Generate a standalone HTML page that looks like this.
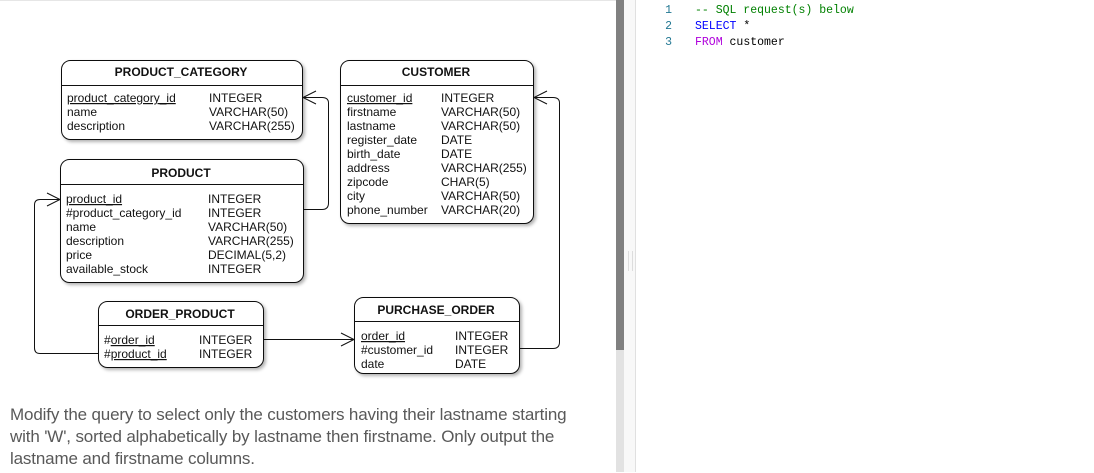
<!DOCTYPE html>
<html><head><meta charset="utf-8"><style>
html,body{margin:0;padding:0;width:1094px;height:472px;overflow:hidden;background:#fff;font-family:"Liberation Sans",sans-serif;}
#left{position:absolute;left:0;top:0;width:616px;height:472px;background:#fff;border-top:1px solid #e6e6e6;}
#sb1{position:absolute;left:616px;top:0;width:8px;height:350px;background:#808080;}
#sb1b{position:absolute;left:616px;top:350px;width:8px;height:122px;background:#e2e2e2;}
#sb2{position:absolute;left:624px;top:0;width:11px;height:472px;background:#f8f8f8;border-right:1px solid #e0e0e0;}
#grip{position:absolute;left:628px;top:251px;width:3px;height:20px;border-left:1px solid #ddd;border-right:1px solid #ddd;}
#code{position:absolute;left:636px;top:0;right:0;height:472px;font-family:"Liberation Mono",monospace;font-size:11.5px;}
.ln{position:absolute;left:26px;width:10px;color:#237893;text-align:right;}
.cd{position:absolute;left:59px;white-space:pre;}
#txt{position:absolute;left:10px;top:403px;font-size:17px;line-height:22px;color:#595959;white-space:nowrap;letter-spacing:-0.15px;}
svg text{font-family:"Liberation Sans",sans-serif;font-size:12px;fill:#111;}
svg text.h{font-weight:bold;}
</style></head><body>
<div id="left">
<svg width="616" height="472" style="position:absolute;left:0;top:0">
<defs><filter id="s" x="-5%" y="-5%" width="115%" height="120%"><feDropShadow dx="2" dy="2" stdDeviation="1.5" flood-color="#000" flood-opacity="0.3"/></filter></defs>
<g fill="#fff" stroke="#111" stroke-width="1">
<rect x="61.5" y="59.5" width="241" height="79" rx="9" filter="url(#s)"/>
<rect x="340.5" y="59.5" width="193" height="163" rx="9" filter="url(#s)"/>
<rect x="60.5" y="158.5" width="243" height="123" rx="9" filter="url(#s)"/>
<rect x="98.5" y="300.5" width="165" height="66" rx="9" filter="url(#s)"/>
<rect x="354.5" y="296.5" width="165" height="76" rx="9" filter="url(#s)"/>
</g>
<g stroke="#111" stroke-width="1" fill="none">
<line x1="61" y1="84.5" x2="302" y2="84.5"/>
<line x1="340" y1="84.5" x2="533" y2="84.5"/>
<line x1="60" y1="183.5" x2="303" y2="183.5"/>
<line x1="98" y1="324.5" x2="263" y2="324.5"/>
<line x1="354" y1="320.5" x2="519" y2="320.5"/>
<path d="M304 208.5 H322 Q328.5 208.5 328.5 202 V102 Q328.5 96.5 322 96.5 H303"/>
<path d="M316 90 L303 96.5 L316 103"/>
<path d="M98 352.5 H40 Q34.5 352.5 34.5 347 V204 Q34.5 198.5 40 198.5 H60"/>
<path d="M47 192 L60 198.5 L47 205"/>
<path d="M263 338.5 H354"/>
<path d="M341 332 L354 338.5 L341 345"/>
<path d="M519 347.5 H553 Q559.5 347.5 559.5 341 V102 Q559.5 96.5 553 96.5 H534"/>
<path d="M547 90 L534 96.5 L547 103"/>
</g>
<text class="h" x="181" y="75" text-anchor="middle">PRODUCT_CATEGORY</text>
<text x="67" y="101" text-decoration="underline">product_category_id</text><text x="209" y="101">INTEGER</text>
<text x="67" y="115">name</text><text x="209" y="115">VARCHAR(50)</text>
<text x="67" y="129">description</text><text x="209" y="129">VARCHAR(255)</text>
<text class="h" x="436" y="75" text-anchor="middle">CUSTOMER</text>
<text x="347" y="101" text-decoration="underline">customer_id</text><text x="441" y="101">INTEGER</text>
<text x="347" y="115">firstname</text><text x="441" y="115">VARCHAR(50)</text>
<text x="347" y="129">lastname</text><text x="441" y="129">VARCHAR(50)</text>
<text x="347" y="143">register_date</text><text x="441" y="143">DATE</text>
<text x="347" y="157">birth_date</text><text x="441" y="157">DATE</text>
<text x="347" y="171">address</text><text x="441" y="171">VARCHAR(255)</text>
<text x="347" y="185">zipcode</text><text x="441" y="185">CHAR(5)</text>
<text x="347" y="199">city</text><text x="441" y="199">VARCHAR(50)</text>
<text x="347" y="213">phone_number</text><text x="441" y="213">VARCHAR(20)</text>
<text class="h" x="181" y="176" text-anchor="middle">PRODUCT</text>
<text x="66" y="202" text-decoration="underline">product_id</text><text x="208" y="202">INTEGER</text>
<text x="66" y="216">#product_category_id</text><text x="208" y="216">INTEGER</text>
<text x="66" y="230">name</text><text x="208" y="230">VARCHAR(50)</text>
<text x="66" y="244">description</text><text x="208" y="244">VARCHAR(255)</text>
<text x="66" y="258">price</text><text x="208" y="258">DECIMAL(5,2)</text>
<text x="66" y="272">available_stock</text><text x="208" y="272">INTEGER</text>
<text class="h" x="180" y="317" text-anchor="middle">ORDER_PRODUCT</text>
<text x="104" y="343">#<tspan text-decoration="underline">order_id</tspan></text><text x="199" y="343">INTEGER</text>
<text x="104" y="357">#<tspan text-decoration="underline">product_id</tspan></text><text x="199" y="357">INTEGER</text>
<text class="h" x="436" y="313" text-anchor="middle">PURCHASE_ORDER</text>
<text x="361" y="339" text-decoration="underline">order_id</text><text x="455" y="339">INTEGER</text>
<text x="361" y="353">#customer_id</text><text x="455" y="353">INTEGER</text>
<text x="361" y="367">date</text><text x="455" y="367">DATE</text>
</svg>
<div id="txt">Modify the query to select only the customers having their lastname starting<br>with 'W', sorted alphabetically by lastname then firstname. Only output the<br>lastname and firstname columns.</div>
</div>
<div id="sb1"></div><div id="sb1b"></div><div id="sb2"></div><div id="grip"></div>
<div id="code">
<div class="ln" style="top:4px">1</div><div class="cd" style="top:4px;color:#008000">-- SQL request(s) below</div>
<div class="ln" style="top:20px">2</div><div class="cd" style="top:20px"><span style="color:#0000ff">SELECT</span> *</div>
<div class="ln" style="top:36px">3</div><div class="cd" style="top:36px"><span style="color:#af00db">FROM</span> customer</div>
</div>
</body></html>
